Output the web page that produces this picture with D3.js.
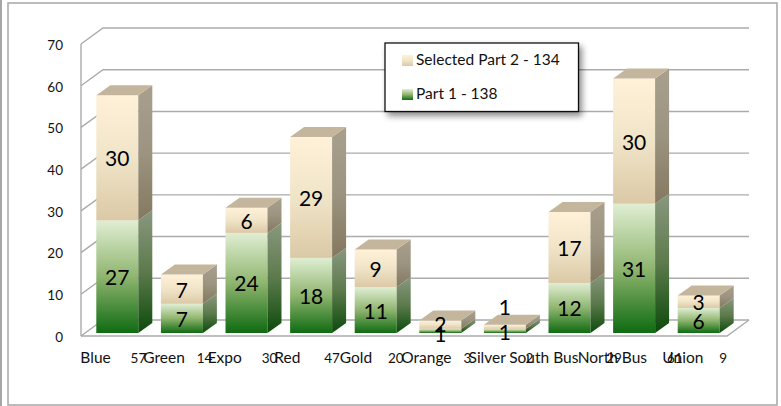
<!DOCTYPE html>
<html>
<head>
<meta charset="utf-8">
<script src="https://cdnjs.cloudflare.com/ajax/libs/d3/7.8.5/d3.min.js"></script>
<style>
	html, body { margin: 0; padding: 0; background: #fff; }
	svg { display: block; font-family: Lato, sans-serif; }
	.tickLabel { font-size: 13.5px; fill: #111; }
	.axisLabel { font-size: 15.5px; fill: #111; white-space: pre; }
	.axisLabel .total { font-size: 13.5px; }
	.barLabel { font-size: 21px; fill: #000; text-anchor: middle; dominant-baseline: central; }
</style>
</head>
<body>
<svg id="chart" width="781" height="406"></svg>
<script>
const categories = ['Blue', 'Green', 'Expo', 'Red', 'Gold', 'Orange', 'Silver', 'South Bus', 'North Bus', 'Union'];
const totals = [57, 14, 30, 47, 20, 3, 2, 29, 61, 9];
const part1 = [27, 7, 24, 18, 11, 1, 1, 12, 31, 6];
const part2 = [30, 7, 6, 29, 9, 2, 1, 17, 30, 3];
const gaps = [5, 3, 5, 6, 4, 3, 5, 7, 5, 4]; // spaces between name and total on the axis
const yTicks = [0, 10, 20, 30, 40, 50, 60, 70];
const legendItems = ['Selected Part 2 - 134', 'Part 1 - 138'];

const svg = d3.select('#chart');
const defs = svg.append('defs');

const depthX = 22, depthY = -16; // 坐标墙的进深
const barDepthX = 14, barDepthY = -10;
const x = d3.scaleBand().domain(categories).range([81, 727]).paddingInner(0.35).paddingOuter(0.175);
const y = d3.scaleLinear().domain([0, 70]).range([336, 44]);

const gradient = (id, c0, c1, c2) => {
	const g = defs.append('linearGradient').attr('id', id).attr('x1', 0).attr('y1', 0).attr('x2', 0).attr('y2', 1);
	g.append('stop').attr('offset', '0%').attr('stop-color', c0);
	g.append('stop').attr('offset', '50%').attr('stop-color', c1);
	g.append('stop').attr('offset', '100%').attr('stop-color', c2);
};
gradient('frontTan', '#fff1d8', '#f0e4c8', '#dbc9a6');
gradient('sideTan', '#a89f8c', '#9c9480', '#84785f');
gradient('frontGreen', '#e0eed3', '#8fb56f', '#0f6b12');
gradient('sideGreen', '#89987f', '#5c7a4c', '#0c4a0b');

const shadow = defs.append('filter').attr('id', 'legendShadow').attr('x', '-10%').attr('y', '-20%').attr('width', '125%').attr('height', '150%');
shadow.append('feDropShadow').attr('dx', 3).attr('dy', 4).attr('stdDeviation', 3).attr('flood-color', '#000').attr('flood-opacity', 0.45);

// 外框
svg.append('line').attr('x1', 1).attr('x2', 1).attr('y1', 0).attr('y2', 406).attr('stroke', '#a6a6a6').attr('stroke-width', 2);
svg.append('rect').attr('x', 8).attr('y', 3).attr('width', 769).attr('height', 402).attr('fill', '#fff').attr('stroke', '#a6a6a6').attr('stroke-width', 1.5);

// 网格线
const gridColor = '#ababab';
const grid = svg.append('g').attr('fill', 'none').attr('stroke', gridColor).attr('stroke-width', 1.4);
grid.append('line').attr('x1', 81).attr('x2', 81).attr('y1', y(70)).attr('y2', y(0));
grid.selectAll('path').data(yTicks).enter().append('path')
	.attr('d', (d) => `M81,${y(d)}L${81 + depthX},${y(d) + depthY}L${727 + depthX},${y(d) + depthY}`);
grid.append('path').attr('d', `M81,${y(0)}L727,${y(0)}L${727 + depthX},${y(0) + depthY}`);

// y轴
const yAxis = svg.append('g').attr('transform', 'translate(63,1)')
	.call(d3.axisLeft(y).tickValues(yTicks).tickSize(0).tickPadding(0));
yAxis.select('.domain').remove();
yAxis.selectAll('text').attr('class', 'tickLabel');
yAxis.attr('font-family', null).attr('font-size', null);

// x轴：名称与合计在同一字符串内，居中后会互相压住
const xLabels = svg.append('g').selectAll('text').data(categories).enter().append('text')
	.attr('class', 'axisLabel')
	.attr('text-anchor', 'middle')
	.attr('x', (d) => x(d) + x.bandwidth() / 2)
	.attr('y', 363)
	.text((d, i) => d + ' '.repeat(gaps[i]));
xLabels.append('tspan').attr('class', 'total').text((d, i) => totals[i]);

// 柱子
const baseShift = -3, barShift = 4;
const segment = (g, left, v0, v1, front, side, withTop) => {
	const w = x.bandwidth();
	const yb = y(v0) + baseShift, yt = y(v1) + baseShift;
	g.append('rect').attr('x', left).attr('y', yt).attr('width', w).attr('height', yb - yt).attr('fill', `url(#${front})`);
	g.append('path').attr('fill', `url(#${side})`)
		.attr('d', `M${left + w},${yb}L${left + w + barDepthX},${yb + barDepthY}L${left + w + barDepthX},${yt + barDepthY}L${left + w},${yt}Z`);
	if (withTop) {
		g.append('path').attr('fill', '#c4b69c')
			.attr('d', `M${left},${yt}L${left + barDepthX},${yt + barDepthY}L${left + w + barDepthX},${yt + barDepthY}L${left + w},${yt}Z`);
	}
};
const bars = svg.append('g');
categories.forEach((c, i) => {
	const left = x(c) + barShift;
	const g = bars.append('g');
	segment(g, left, 0, part1[i], 'frontGreen', 'sideGreen', false);
	segment(g, left, part1[i], part1[i] + part2[i], 'frontTan', 'sideTan', true);
});

// 数值标签，Orange / Silver 的小段有人工偏移
const nudge1 = { Orange: 3, Silver: 1 };
const nudge2 = { Orange: -1, Silver: -20 };
const labels = svg.append('g');
categories.forEach((c, i) => {
	const cx = x(c) + barShift + x.bandwidth() / 2;
	labels.append('text').attr('class', 'barLabel').attr('x', cx)
		.attr('y', y(part1[i] / 2) + baseShift + (nudge1[c] || 0)).text(part1[i]);
	labels.append('text').attr('class', 'barLabel').attr('x', cx)
		.attr('y', y(part1[i] + part2[i] / 2) + baseShift + (nudge2[c] || 0)).text(part2[i]);
});

// 图例
const legend = svg.append('g').attr('transform', 'translate(385,43)');
legend.append('rect').attr('width', 193.5).attr('height', 68.5).attr('fill', '#fff').attr('stroke', '#111').attr('stroke-width', 1.3).attr('filter', 'url(#legendShadow)');
const legendFills = ['frontTan', 'frontGreen'];
legendItems.forEach((t, i) => {
	legend.append('rect').attr('x', 17).attr('y', 12 + i * 34).attr('width', 11).attr('height', 11).attr('fill', `url(#${legendFills[i]})`);
	legend.append('text').attr('class', 'axisLabel').attr('x', 31).attr('y', 22 + i * 34).text(t);
});
</script>
</body>
</html>
